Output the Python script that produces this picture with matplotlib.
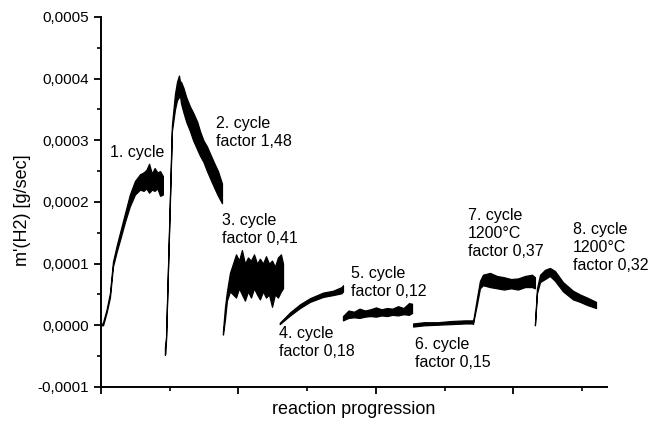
import numpy as np
import matplotlib
matplotlib.use("Agg")
import matplotlib.pyplot as plt
from matplotlib.ticker import FuncFormatter, MultipleLocator

plt.rcParams["font.family"] = ["Liberation Sans", "DejaVu Sans"]

# values of m'(H2) in units of 1e-4 g/sec, lower / upper edge of the noisy trace
UNIT = 1e-4

c1_x = [0.0, 0.015, 0.04, 0.065, 0.087, 0.115, 0.138, 0.175, 0.21, 0.247, 0.284, 0.31, 0.33, 0.35, 0.37, 0.39, 0.41, 0.43, 0.45]
c1_lo = [0, 0, 0.2, 0.45, 0.95, 1.2, 1.38, 1.68, 1.93, 2.12, 2.20, 2.18, 2.22, 2.15, 2.20, 2.18, 2.22, 2.10, 2.12]
c1_hi = [0, 0.05, 0.25, 0.52, 1.03, 1.3, 1.5, 1.82, 2.12, 2.34, 2.45, 2.48, 2.52, 2.62, 2.46, 2.55, 2.48, 2.50, 2.42]

c2_x = [0.465, 0.468, 0.473, 0.516, 0.538, 0.553, 0.567, 0.575, 0.582, 0.60, 0.62, 0.647, 0.67, 0.70, 0.72, 0.745, 0.771, 0.80, 0.83, 0.851, 0.88]
c2_lo = [-0.48, -0.45, -0.25, 3.15, 3.5, 3.65, 3.7, 3.72, 3.6, 3.45, 3.3, 3.15, 3.0, 2.85, 2.75, 2.65, 2.5, 2.35, 2.2, 2.1, 1.98]
c2_hi = [-0.35, -0.3, -0.2, 3.25, 3.75, 3.95, 4.05, 3.95, 3.95, 3.85, 3.7, 3.55, 3.45, 3.3, 3.15, 3.0, 2.9, 2.75, 2.6, 2.5, 2.3]

c3_x = [0.887, 0.902, 0.916, 0.938, 0.96, 0.982, 1.004, 1.025, 1.047, 1.069, 1.091, 1.113, 1.135, 1.156, 1.178, 1.2, 1.222, 1.244, 1.265, 1.287, 1.309, 1.324]
c3_lo = [-0.15, 0.1, 0.4, 0.55, 0.5, 0.45, 0.6, 0.5, 0.4, 0.55, 0.45, 0.6, 0.5, 0.42, 0.55, 0.45, 0.5, 0.3, 0.5, 0.45, 0.55, 0.6]
c3_hi = [-0.1, 0.3, 0.55, 0.85, 1.0, 1.15, 1.05, 1.22, 1.0, 1.1, 1.05, 1.15, 1.0, 1.08, 1.0, 1.12, 1.0, 1.05, 0.95, 1.1, 1.15, 1.0]

c4_x = [1.30, 1.375, 1.447, 1.52, 1.615, 1.687, 1.75, 1.76]
c4_lo = [0.02, 0.16, 0.28, 0.38, 0.46, 0.49, 0.52, 0.55]
c4_hi = [0.04, 0.21, 0.34, 0.44, 0.53, 0.56, 0.62, 0.65]

c5_x = [1.76, 1.80, 1.84, 1.88, 1.92, 1.96, 2.00, 2.04, 2.08, 2.12, 2.16, 2.20, 2.24, 2.262]
c5_lo = [0.08, 0.12, 0.13, 0.12, 0.14, 0.15, 0.14, 0.16, 0.15, 0.17, 0.16, 0.18, 0.17, 0.2]
c5_hi = [0.15, 0.24, 0.22, 0.27, 0.24, 0.26, 0.29, 0.26, 0.28, 0.27, 0.31, 0.28, 0.36, 0.35]

c6_x = [2.27, 2.35, 2.45, 2.55, 2.65, 2.705]
c6_lo = [-0.02, 0.0, 0.01, 0.02, 0.03, 0.03]
c6_hi = [0.03, 0.05, 0.05, 0.07, 0.08, 0.08]

c7_x = [2.705, 2.735, 2.756, 2.778, 2.829, 2.88, 2.93, 2.982, 3.033, 3.084, 3.135, 3.156]
c7_lo = [0.02, 0.35, 0.6, 0.65, 0.62, 0.6, 0.58, 0.6, 0.58, 0.62, 0.62, 0.6]
c7_hi = [0.05, 0.45, 0.72, 0.82, 0.85, 0.8, 0.78, 0.75, 0.76, 0.8, 0.82, 0.78]

c8_x = [3.156, 3.171, 3.193, 3.229, 3.265, 3.302, 3.36, 3.433, 3.484, 3.535, 3.6]
c8_lo = [0.0, 0.52, 0.7, 0.75, 0.8, 0.72, 0.55, 0.42, 0.38, 0.33, 0.28]
c8_hi = [0.02, 0.6, 0.82, 0.9, 0.93, 0.88, 0.7, 0.56, 0.5, 0.45, 0.38]

cycles = [
    (c1_x, c1_lo, c1_hi), (c2_x, c2_lo, c2_hi), (c3_x, c3_lo, c3_hi), (c4_x, c4_lo, c4_hi),
    (c5_x, c5_lo, c5_hi), (c6_x, c6_lo, c6_hi), (c7_x, c7_lo, c7_hi), (c8_x, c8_lo, c8_hi),
]

labels = [
    "1. cycle",
    "2. cycle\nfactor 1,48",
    "3. cycle\nfactor 0,41",
    "4. cycle\nfactor 0,18",
    "5. cycle\nfactor 0,12",
    "6. cycle\nfactor 0,15",
    "7. cycle\n1200°C\nfactor 0,37",
    "8. cycle\n1200°C\nfactor 0,32",
]
label_x = [0.065, 0.836, 0.88, 1.295, 1.818, 2.284, 2.669, 3.433]
label_y = [2.80, 3.13, 1.56, -0.28, 0.70, -0.45, 1.49, 1.26]

fig = plt.figure(figsize=(6.63, 4.21), dpi=100)
ax = fig.add_axes([0.1523, 0.0808, 0.7632, 0.8789])

for x, lo, hi in cycles:
    lo = np.array(lo) * UNIT
    hi = np.array(hi) * UNIT
    ax.fill_between(x, lo, hi, color="black", lw=0.9)

for txt, tx, ty in zip(labels, label_x, label_y):
    ax.text(tx, ty * UNIT, txt, fontsize=11.5, ha="left", va="center", linespacing=1.25)

ax.set_xlim(0, 3.68)
ax.set_ylim(-0.0001, 0.0005)

ax.spines["top"].set_visible(False)
ax.spines["right"].set_visible(False)
for s in ["left", "bottom"]:
    ax.spines[s].set_linewidth(1.4)

ax.xaxis.set_major_locator(MultipleLocator(1))
ax.xaxis.set_minor_locator(MultipleLocator(0.5))
ax.xaxis.set_major_formatter(FuncFormatter(lambda v, p: ""))
ax.yaxis.set_major_locator(MultipleLocator(0.0001))
ax.yaxis.set_minor_locator(MultipleLocator(0.00005))
ax.yaxis.set_major_formatter(FuncFormatter(lambda v, p: f"{v:.4f}".replace(".", ",").replace("-0,0000", "0,0000")))
ax.tick_params(which="major", length=5, width=1.3, labelsize=11)
ax.tick_params(which="minor", length=3, width=1.2)

ax.set_xlabel("reaction progression", fontsize=13, va="center")
ax.xaxis.set_label_coords(0.5, -0.062)
ax.set_ylabel("m'(H2) [g/sec]", fontsize=13, va="center")
ax.yaxis.set_label_coords(-0.156, 0.478)

fig.savefig("out.png", dpi=100)
